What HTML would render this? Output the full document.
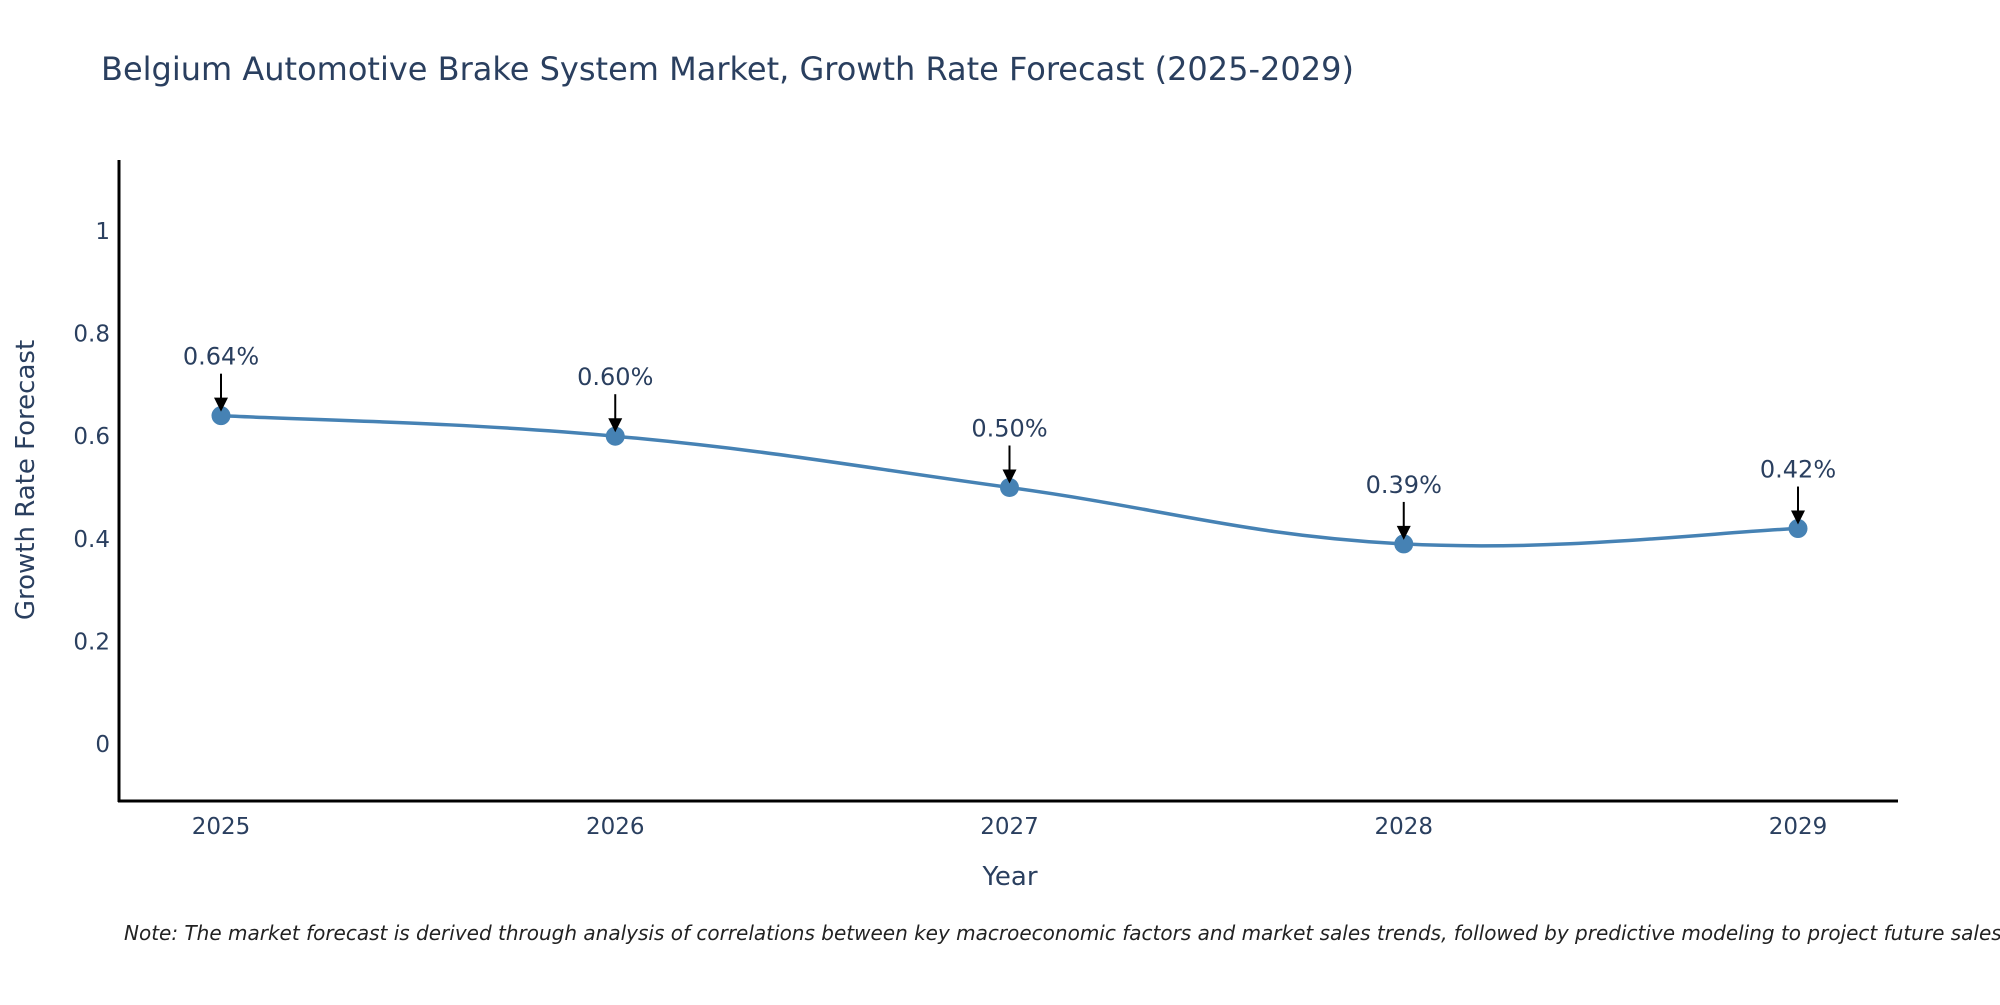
<!DOCTYPE html>
<html><head><meta charset="utf-8"><style>
body{margin:0;background:#fff;width:2000px;height:1000px;overflow:hidden}
svg text{font-family:"DejaVu Sans","Liberation Sans",sans-serif;fill:#2a3f5f}
</style></head><body>
<svg id="chart" width="2000" height="1000" xmlns="http://www.w3.org/2000/svg">
<text x="101" y="80" font-size="32">Belgium Automotive Brake System Market, Growth Rate Forecast (2025-2029)</text>
<g id="yticks"></g><g id="xticks"></g>
<line x1="119" y1="160" x2="119" y2="802" stroke="#000" stroke-width="3"/>
<line x1="118" y1="801" x2="1898" y2="801" stroke="#000" stroke-width="3"/>
<path id="series" fill="none" stroke="#4682b4" stroke-width="3.5"/>
<g id="marks"></g>
<text transform="translate(34,480) rotate(-90)" text-anchor="middle" font-size="26">Growth Rate Forecast</text>
<text x="1010" y="885" text-anchor="middle" font-size="26">Year</text>
<text x="124" y="940" font-size="20" font-style="italic" style="fill:#222">Note: The market forecast is derived through analysis of correlations between key macroeconomic factors and market sales trends, followed by predictive modeling to project future sales.</text>
</svg>
<script>
const years=["2025","2026","2027","2028","2029"];
const values=[0.64,0.60,0.50,0.39,0.42];
const labels=["0.64%","0.60%","0.50%","0.39%","0.42%"];
const yTicks=[0,0.2,0.4,0.6,0.8,1];
const yTickLabels=["0","0.2","0.4","0.6","0.8","1"];
const NS="http://www.w3.org/2000/svg";
function xs(i){return 221+i*(1798-221)/(years.length-1);}
function ys(v){return 744-v*513;}
function mk(t,a,p){const e=document.createElementNS(NS,t);for(const k in a)e.setAttribute(k,a[k]);p.appendChild(e);return e;}
const yt=document.getElementById('yticks');
yTicks.forEach((v,i)=>{const t=mk('text',{x:110,y:ys(v)+8,'text-anchor':'end','font-size':23},yt);


t.textContent=yTickLabels[i];});
const xt=document.getElementById('xticks');
years.forEach((y,i)=>{const t=mk('text',{x:xs(i),y:834,'text-anchor':'middle','font-size':23},xt);


t.textContent=y;});
const P=values.map((v,i)=>[xs(i),ys(v)]);
let d='M'+P[0][0]+','+P[0][1];const s=0.2;
for(let i=0;i<P.length-1;i++){const p0=P[i-1]||P[i],p1=P[i],p2=P[i+1],p3=P[i+2]||P[i+1];
d+=' C'+(p1[0]+(p2[0]-p0[0])*s)+','+(p1[1]+(p2[1]-p0[1])*s)+' '+(p2[0]-(p3[0]-p1[0])*s)+','+(p2[1]-(p3[1]-p1[1])*s)+' '+p2[0]+','+p2[1];}
document.getElementById('series').setAttribute('d',d);
const g=document.getElementById('marks');
P.forEach((p,i)=>{const c=mk('circle',{cx:p[0],cy:p[1],r:9.5,fill:'#4682b4'},g);


const l=mk('line',{x1:p[0],y1:p[1]-42,x2:p[0],y2:p[1]-16,stroke:'#000','stroke-width':2},g);


const h=mk('polygon',{points:(p[0]-7)+','+(p[1]-18)+' '+(p[0]+7)+','+(p[1]-18)+' '+p[0]+','+(p[1]-4),fill:'#000'},g);


const t=mk('text',{x:p[0],y:p[1]-51,'text-anchor':'middle','font-size':24},g);


t.textContent=labels[i];});
</script>
</body></html>
